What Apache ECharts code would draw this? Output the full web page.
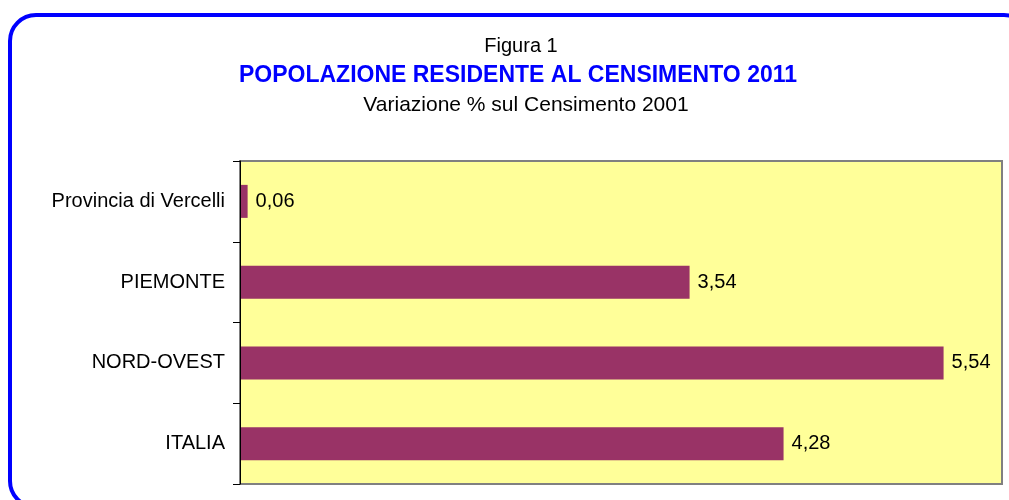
<!DOCTYPE html>
<html>
<head>
    <meta charset="utf-8">
    <script src="https://cdn.jsdelivr.net/npm/echarts@6/dist/echarts.min.js"></script>
    <title>Popolazione residente</title>
    <style>
        body { margin: 0; background: #fff; }
        #main { width: 1009px; height: 500px; }
    </style>
</head>
<body>
    <div id="main"></div>
    <script type="text/javascript">
        var categories = ['Provincia di Vercelli', 'PIEMONTE', 'NORD-OVEST', 'ITALIA'];
        var values = [0.06, 3.54, 5.54, 4.28];

        var myChart = echarts.init(document.getElementById('main'));
        var font = 'Liberation Sans, Arial, sans-serif';

        var option = {
            backgroundColor: '#fff',
            title: [{
                text: 'Figura 1',
                left: 516, top: 31, textAlign: 'center',
                textStyle: { fontFamily: font, fontSize: 20, fontWeight: 'normal', color: '#000' }
            }, {
                text: 'POPOLAZIONE RESIDENTE AL CENSIMENTO 2011',
                left: 513, top: 59, textAlign: 'center',
                textStyle: { fontFamily: font, fontSize: 23, fontWeight: 'bold', color: '#0000FF' }
            }, {
                text: 'Variazione % sul Censimento 2001',
                left: 521, top: 90, textAlign: 'center',
                textStyle: { fontFamily: font, fontSize: 21, fontWeight: 'normal', color: '#000' }
            }],
            graphic: [{
                type: 'rect',
                shape: { x: 10, y: 15, width: 1020, height: 492, r: 26 },
                style: { fill: 'none', stroke: '#0000FF', lineWidth: 4 },
                z: 100
            }],
            grid: {
                left: 240, top: 161, right: 7, bottom: 16,
                show: true,
                backgroundColor: '#FFFF99',
                borderColor: '#808080',
                borderWidth: 2
            },
            xAxis: {
                type: 'value',
                min: 0, max: 6,
                show: false
            },
            yAxis: {
                type: 'category',
                data: categories,
                inverse: true,
                axisLine: { show: true, lineStyle: { color: '#000', width: 1 } },
                axisTick: { show: true, length: 7, lineStyle: { color: '#000' } },
                axisLabel: { fontFamily: font, fontSize: 20, color: '#000', margin: 15 },
                z: 10
            },
            series: [{
                type: 'bar',
                data: values,
                barWidth: 33,
                itemStyle: { color: '#993366' },
                label: {
                    show: true,
                    position: 'right',
                    distance: 8,
                    fontFamily: font,
                    fontSize: 20,
                    color: '#000',
                    formatter: function (p) { return p.value.toFixed(2).replace('.', ','); }
                }
            }]
        };
        myChart.setOption(option);
    </script>
</body>
</html>
